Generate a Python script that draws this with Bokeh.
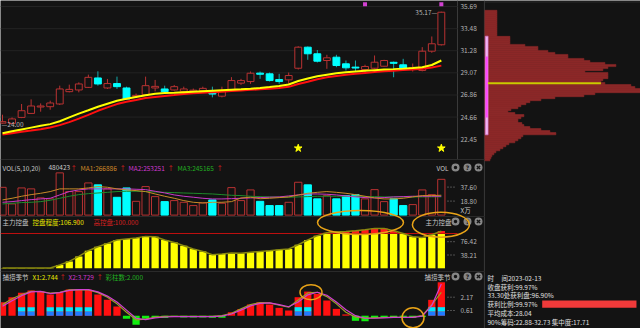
from bokeh.plotting import figure
from bokeh.models import Range1d, ColumnDataSource
from bokeh.core.properties import value
from bokeh.embed import file_html
from bokeh.resources import INLINE

FONT = value("Noto Sans CJK SC")

# ---------------- data ----------------
opens = [24.05, 24.02, 24.62, 25.02, 25.66, 25.69, 25.96, 27.19, 27.36, 27.62,
         28.56, 27.56, 28.00, 27.56, 26.72, 26.89, 27.56, 27.46, 27.36, 27.22,
         27.25, 27.29, 27.20, 26.74, 27.31, 28.04, 28.20, 29.00, 28.97, 28.40,
         28.37, 29.53, 31.63, 30.97, 30.30, 30.63, 29.97, 29.60, 29.40, 29.53,
         29.73, 30.08, 29.87, 29.45, 29.30, 31.23, 31.87]
highs = [24.89, 24.62, 25.96, 26.42, 26.02, 26.29, 27.79, 27.89, 28.12, 28.89,
         29.22, 28.46, 28.69, 27.69, 27.00, 28.69, 28.36, 27.79, 27.86, 27.69,
         27.50, 27.69, 27.69, 27.69, 28.64, 28.47, 29.20, 29.20, 29.10, 28.97,
         29.10, 31.72, 31.70, 31.35, 30.87, 30.87, 30.30, 30.30, 29.88, 30.80,
         30.37, 30.20, 30.47, 30.00, 31.63, 32.70, 35.17]
lows = [24.00, 24.00, 24.55, 24.96, 25.19, 25.39, 25.86, 27.12, 27.12, 27.56,
        27.79, 27.46, 27.46, 26.42, 26.60, 26.79, 27.22, 27.12, 27.29, 27.12,
        27.15, 27.22, 26.62, 26.62, 27.21, 27.87, 27.97, 28.47, 28.20, 27.97,
        27.97, 29.40, 30.37, 30.10, 29.47, 29.63, 29.30, 29.15, 29.00, 29.47,
        29.70, 28.63, 29.30, 29.20, 29.22, 31.07, 31.80]
closes = [24.20, 24.47, 25.29, 25.76, 25.72, 26.06, 27.46, 27.42, 27.96, 28.62,
          27.96, 28.00, 27.69, 26.46, 26.82, 27.79, 27.72, 27.19, 27.69, 27.46,
          27.30, 27.52, 26.95, 27.31, 28.30, 28.30, 29.03, 28.93, 28.30, 28.20,
          28.80, 31.63, 30.97, 30.23, 30.57, 29.80, 29.57, 29.55, 29.70, 30.13,
          30.30, 30.02, 29.40, 29.52, 31.23, 31.97, 35.12]
ma_yellow = [23.05, 23.24, 23.42, 23.60, 23.78, 23.95, 24.24, 24.62, 25.00, 25.33,
             25.68, 25.98, 26.28, 26.48, 26.66, 26.83, 26.99, 27.05, 27.09, 27.14,
             27.19, 27.24, 27.29, 27.34, 27.39, 27.43, 27.48, 27.56, 27.65, 27.75,
             27.91, 28.26, 28.51, 28.72, 28.88, 29.02, 29.12, 29.20, 29.27, 29.34,
             29.40, 29.44, 29.49, 29.55, 29.63, 29.85, 30.30]
ma_red = [22.92, 23.05, 23.18, 23.31, 23.45, 23.62, 23.85, 24.15, 24.50, 24.88,
          25.28, 25.62, 25.95, 26.18, 26.36, 26.56, 26.66, 26.76, 26.85, 26.95,
          27.02, 27.08, 27.14, 27.19, 27.25, 27.31, 27.37, 27.43, 27.48, 27.55,
          27.67, 27.96, 28.18, 28.43, 28.62, 28.76, 28.87, 28.97, 29.06, 29.15,
          29.23, 29.29, 29.35, 29.41, 29.48, 29.61, 29.79]

vol = [37.3, 15.0, 36.5, 35.2, 23.1, 21.8, 56.7, 31.6, 31.6, 43.2,
       40.6, 35.2, 23.9, 36.5, 18.5, 38.3, 24.8, 18.1, 19.5, 17.2,
       12.8, 16.4, 20.4, 15.9, 36.9, 19.5, 33.8, 18.5, 12.8, 12.8,
       17.2, 44.1, 40.6, 21.8, 26.2, 21.8, 26.2, 27.5, 21.8, 34.2,
       18.1, 21.8, 12.8, 14.1, 33.8, 27.5, 48.0423]
vol_ma1 = [20.4, 22.6, 25.3, 27.5, 29.3, 31.6, 35.2, 35.2, 35.2, 36.5,
           38.3, 37.4, 35.2, 33.8, 32.9, 31.6, 28.4, 25.3, 22.6, 19.5,
           17.2, 16.3, 17.2, 17.2, 18.1, 23.0, 24.0, 22.0, 22.6, 23.5,
           24.4, 26.9, 29.3, 30.6, 31.6, 30.6, 29.3, 27.5, 25.3, 23.1,
           21.7, 21.7, 22.6, 24.4, 26.2, 26.2, 26.6886]
vol_ma2 = [17.2, 18.1, 19.5, 20.8, 21.7, 22.6, 27.1, 31.6, 33.8, 35.2,
           35.2, 35.2, 35.2, 35.2, 34.7, 34.2, 32.0, 29.8, 27.1, 25.3,
           24.0, 22.6, 21.7, 21.7, 22.1, 22.6, 23.1, 23.5, 24.0, 24.4,
           25.7, 27.1, 28.4, 28.4, 28.0, 27.1, 25.7, 24.4, 23.5, 23.1,
           23.5, 24.4, 24.8, 25.3, 25.3, 25.3, 25.3251]
vol_ma3 = [15.0, 15.9, 16.8, 17.2, 18.1, 19.9, 22.6, 25.3, 27.5, 28.8,
           29.7, 30.6, 31.6, 32.0, 32.0, 31.6, 31.1, 30.6, 30.2, 29.7,
           29.3, 28.8, 28.4, 27.5, 26.6, 26.2, 25.3, 24.8, 24.4, 24.0,
           24.0, 24.4, 24.8, 25.3, 25.3, 25.3, 25.3, 25.3, 24.8, 24.8,
           24.4, 24.4, 24.4, 24.4, 24.4, 24.5, 24.5165]

zl = [0.8, 0.8, 0.8, 0.8, 0.8, 0.8, 9.5, 19.8, 34.2, 50.6,
      62.1, 71.6, 81.3, 84.2, 87.0, 91.7, 90.8, 81.3, 74.4, 64.9,
      55.4, 48.6, 39.1, 41.0, 43.9, 43.0, 45.8, 48.6, 50.6, 53.4,
      55.4, 67.8, 81.3, 93.7, 102.0, 105.0, 106.0, 108.0, 111.0, 114.7,
      114.7, 108.0, 100.0, 90.8, 88.8, 96.5, 106.9]
zl_high = 100.0

bl = [1.58, 2.17, 2.68, 2.95, 2.83, 2.48, 2.75, 3.07, 3.07, 3.03,
      2.48, 1.86, 1.08, -0.37, -1.06, -0.37, -0.20, -0.27, -0.15, -0.20,
      -0.20, -0.20, -0.25, -0.25, 0.40, 0.80, 1.31, 1.58, 1.31, 0.92,
      0.61, 2.17, 2.83, 2.56, 1.78, 0.80, 0.15, -0.60, -0.65, -0.27,
      -0.20, -0.20, -0.20, -0.25, -0.15, 1.86, 3.92]
bl_x1 = [1.30, 1.98, 2.48, 2.87, 2.83, 2.64, 2.75, 3.03, 3.07, 3.03,
         2.71, 2.17, 1.39, 0.41, -0.48, -0.41, -0.17, -0.09, -0.09, -0.09,
         -0.09, -0.09, -0.09, 0.02, 0.29, 0.80, 1.30, 1.54, 1.50, 1.23,
         0.99, 1.85, 2.67, 2.75, 2.24, 1.39, 0.41, -0.17, -0.29, -0.25,
         -0.21, -0.17, -0.21, -0.17, 0.02, 1.30, 2.744]
bl_x2 = [1.10, 1.75, 2.35, 2.80, 2.85, 2.60, 2.70, 2.98, 3.05, 3.05,
         2.80, 2.30, 1.60, 0.65, -0.30, -0.45, -0.25, -0.15, -0.12, -0.12,
         -0.12, -0.12, -0.12, -0.05, 0.20, 0.65, 1.15, 1.45, 1.50, 1.30,
         1.05, 1.60, 2.45, 2.75, 2.40, 1.60, 0.70, 0.00, -0.30, -0.30,
         -0.25, -0.20, -0.20, -0.20, -0.05, 1.20, 3.729]
bl_colored = [2, 3, 5, 6, 7, 8, 9, 31, 32, 45, 46]
bl_blue_top = 0.5
bl_cyan_top = 1.0

star_idx = [31, 46]
dot_idx = [38, 46]

price_ticks = [35.69, 33.48, 31.28, 29.07, 26.86, 24.66, 22.45]
vol_ticks = [37.60, 18.80]
zl_ticks = [76.42, 38.21]
bl_ticks = [2.17, 0.61]

chip_price = [35.2, 35.0, 34.8, 34.6, 34.4, 34.2, 34.0, 33.8, 33.6, 33.4, 33.2, 33.0, 32.8,
              32.6, 32.4, 32.2, 32.0, 31.8, 31.6, 31.4, 31.2, 31.0, 30.8, 30.6, 30.4,
              30.2, 30.0, 29.8, 29.6, 29.4, 29.2, 29.0, 28.8, 28.6, 28.4, 28.2, 28.0,
              27.8, 27.6, 27.4, 27.2, 27.0, 26.8, 26.6, 26.4, 26.2, 26.0, 25.8, 25.6,
              25.4, 25.2, 25.0, 24.8, 24.6, 24.4, 24.2, 24.0, 23.8, 23.6, 23.4, 23.2,
              23.0, 22.8, 22.6, 22.4, 22.2, 22.0, 21.8, 21.6, 21.4, 21.2, 21.0, 20.8,
              20.6, 20.4]
chip_amount = [12, 12, 12, 12, 12, 12, 12, 12, 12, 12, 12, 12, 12,
               25, 25, 25, 25, 40, 53, 53, 63, 70, 83, 83, 99,
               105, 120, 131, 123, 118, 100, 123, 123, 123, 118, 116, 120,
               146, 150, 156, 156, 110, 99, 70, 56, 45, 41, 36, 33,
               26, 23, 30, 39, 36, 33, 33, 37, 39, 45, 56, 65,
               71, 38, 36, 33, 30, 24, 21, 18, 15, 11, 9, 7,
               6, 5]
chip_bin = 0.2
chip90 = (22.88, 32.73)
chip70 = (24.60, 30.70)
avg_cost = 28.04
profit_ratio = 99.97

# ---------------- layout constants ----------------
W, H = 640, 328
BG = "#131313"
K_X0, K_STEP = 2.0, 9.54
P_REF, P_REF_Y, P_PX = 35.69, 6.0, 10.02
V0_Y, V_UNIT = 214.6, 1.343
Z0_Y, Z_UNIT = 267.8, 2.873
B0_Y, B_UNIT = 315.2, 0.1173
C0_X = 484.4
R0_X, R_PX = 541.7, 0.943
PLOT_R = 457
LABEL_X = 460

p = figure(width=W, height=H, x_range=Range1d(0, W), y_range=Range1d(H, 0),
           output_backend="svg", toolbar_location=None, min_border=0,
           x_axis_location=None, y_axis_location=None)
p.grid.visible = False
p.background_fill_color = BG
p.border_fill_color = BG
p.outline_line_color = None
p.extra_x_ranges = {
    "k": Range1d(-K_X0 / K_STEP, (W - K_X0) / K_STEP),
    "chip": Range1d(-C0_X, W - C0_X),
    "pct": Range1d(-R0_X / R_PX, (W - R0_X) / R_PX),
}
p.extra_y_ranges = {
    "price": Range1d(P_REF - (H - P_REF_Y) / P_PX, P_REF + P_REF_Y / P_PX),
    "vol": Range1d(-(H - V0_Y) * V_UNIT, V0_Y * V_UNIT),
    "zl": Range1d(-(H - Z0_Y) * Z_UNIT, Z0_Y * Z_UNIT),
    "bl": Range1d(-(H - B0_Y) * B_UNIT, B0_Y * B_UNIT),
}

n = len(opens)
idx = list(range(n))
UP, DN, DNW = "#b83232", "#00ffff", "#14a8a8"
up = [c >= o for o, c in zip(opens, closes)]

# separators
p.segment(x0=[PLOT_R, C0_X - 0.5], y0=[0, 0], x1=[PLOT_R, C0_X - 0.5], y1=[159, H],
          line_color="#3a3a3a", line_width=1)
p.segment(x0=[0, 0, 0, C0_X], y0=[159, 216, 271, 1.5], x1=[C0_X, C0_X, C0_X, W],
          y1=[159, 216, 271, 1.5], line_color="#2a2a2a", line_width=1)

# price grid
p.segment(x0=0, x1=PLOT_R, y0=price_ticks, y1=price_ticks, y_range_name="price",
          line_color="#232323", line_width=1)

# candles
src = ColumnDataSource(dict(
    x=idx, o=opens, h=highs, l=lows, c=closes,
    top=[max(o, c) + (0.04 if abs(c - o) < 0.08 else 0) for o, c in zip(opens, closes)],
    bot=[min(o, c) for o, c in zip(opens, closes)],
    wick=[UP if u else DNW for u in up],
    fill=[BG if u else DN for u in up],
    line=[UP if u else DN for u in up],
))
p.segment(x0="x", y0="h", x1="x", y1="l", source=src, line_color="wick",
          x_range_name="k", y_range_name="price", line_width=1)
p.vbar(x="x", top="top", bottom="bot", width=0.72, source=src, fill_color="fill",
       line_color="line", line_width=1, x_range_name="k", y_range_name="price")

p.line(idx, ma_red, line_color="#ff1010", line_width=2, x_range_name="k", y_range_name="price")
p.line(idx, ma_yellow, line_color="#ffff00", line_width=2, x_range_name="k", y_range_name="price")

imax = highs.index(max(highs))
imin = lows.index(min(lows))
p.text(x=[imax], y=[highs[imax]], text=[f"{highs[imax]:.2f}—"], x_offset=-4,
       x_range_name="k", y_range_name="price", text_font=FONT, text_font_size="6.5px",
       text_color="#b8b8b8", text_align="right", text_baseline="middle")
p.text(x=[imin], y=[lows[imin]], text=[f"—{lows[imin]:.2f}"], x_offset=-1,
       x_range_name="k", y_range_name="price", text_font=FONT, text_font_size="6.5px",
       text_color="#b8b8b8", text_align="left", text_baseline="middle")

sig_low = P_REF - (147.7 - P_REF_Y) / P_PX
sig_high = P_REF + (P_REF_Y - 3.7) / P_PX
p.scatter(star_idx, [sig_low] * len(star_idx), marker="star", size=8, fill_color="#ffff00",
          line_color="#ffff00", x_range_name="k", y_range_name="price")
p.scatter(dot_idx, [sig_high] * len(dot_idx), marker="square", size=4, fill_color="#d040d0",
          line_color=None, x_range_name="k", y_range_name="price")

# volume
vsrc = ColumnDataSource(dict(x=idx, v=vol, fill=[BG if u else DN for u in up],
                             line=[UP if u else DN for u in up]))
p.vbar(x="x", top="v", bottom=0, width=0.76, source=vsrc, fill_color="fill",
       line_color="line", x_range_name="k", y_range_name="vol")
p.line(idx, vol_ma3, line_color="#1f8a2a", line_width=1, x_range_name="k", y_range_name="vol")
p.line(idx, vol_ma2, line_color="#c838c8", line_width=1, x_range_name="k", y_range_name="vol")
p.line(idx, vol_ma1, line_color="#c88a28", line_width=1, x_range_name="k", y_range_name="vol")

# 主力控盘
p.vbar(x=idx, top=[min(v, zl_high) for v in zl], bottom=0, width=0.76,
       fill_color="#ffff00", line_color=None, x_range_name="k", y_range_name="zl")
hi_idx = [i for i, v in enumerate(zl) if v > zl_high]
p.vbar(x=hi_idx, top=[zl[i] for i in hi_idx], bottom=zl_high, width=0.76,
       fill_color="#ff1a1a", line_color=None, x_range_name="k", y_range_name="zl")
p.segment(x0=0, x1=PLOT_R, y0=zl_high, y1=zl_high, line_color="#c01010", line_width=1,
          y_range_name="zl")
p.line(idx, zl, line_color="#8a8a10", line_width=1.5, x_range_name="k", y_range_name="zl")

# 捕捞季节
p.vbar(x=idx, top=[max(v, 0) for v in bl], bottom=[min(v, 0) for v in bl], width=0.76,
       fill_color=["#ff1010" if v > 0 else "#10ee10" for v in bl], line_color=None,
       x_range_name="k", y_range_name="bl")
p.vbar(x=bl_colored, top=bl_blue_top, bottom=0, width=0.76, fill_color="#1e7bff",
       line_color=None, x_range_name="k", y_range_name="bl")
p.vbar(x=bl_colored, top=bl_cyan_top, bottom=bl_blue_top, width=0.76, fill_color="#00e8ff",
       line_color=None, x_range_name="k", y_range_name="bl")
p.line(idx, bl_x1, line_color="#9c9c28", line_width=1.2, x_range_name="k", y_range_name="bl")
p.line(idx, bl_x2, line_color="#d040d0", line_width=1.2, x_range_name="k", y_range_name="bl")

# axis labels
for ticks, rng in [(price_ticks, "price"), (vol_ticks, "vol"), (zl_ticks, "zl"), (bl_ticks, "bl")]:
    p.text(x=[LABEL_X] * len(ticks), y=ticks, text=[f"{t:.2f}" for t in ticks], y_range_name=rng,
           text_font=FONT, text_font_size="6.5px", text_color="#b4b4b4",
           text_align="left", text_baseline="middle")
    if rng != "price":
        p.segment(x0=447, x1=455, y0=ticks, y1=ticks, y_range_name=rng,
                  line_color="#8a8a8a", line_dash="1 2", line_width=1)
p.text(x=[LABEL_X], y=[209], text=["X万"], text_font=FONT, text_font_size="6.5px",
       text_color="#c8c8c8", text_align="left", text_baseline="middle")

# chip distribution (contiguous bins)
CHIP_RED = "#8c2828"
p.quad(left=0, right=chip_amount,
       bottom=[c - chip_bin / 2 - 0.01 for c in chip_price],
       top=[c + chip_bin / 2 + 0.01 for c in chip_price],
       fill_color=CHIP_RED, line_color=CHIP_RED, line_width=0.6,
       x_range_name="chip", y_range_name="price")
p.vbar(x=[1.8], bottom=[chip90[0]], top=[chip90[1]], width=2.8, fill_color="#f2b4f2",
       line_color="#d070d0", line_width=0.6, x_range_name="chip", y_range_name="price")
p.vbar(x=[1.8], bottom=[chip70[0]], top=[chip70[1]], width=2.2, fill_color="#ff44ff",
       line_color=None, x_range_name="chip", y_range_name="price")
p.segment(x0=[3], x1=[116], y0=[avg_cost], y1=[avg_cost], line_color="#caca00", line_width=2,
          x_range_name="chip", y_range_name="price")

# headers
hdr = [
    (2, 167, "VOL(5,10,20)", "#c8c8c8"),
    (48, 167, f"{vol[-1] * 1e4:.0f}", "#c8c8c8"),
    (70, 167, "↑", "#e02020"),
    (80, 167, f"MA1:{vol_ma1[-1] * 1e4:.0f}", "#d08a28"),
    (119, 167, "↑", "#e02020"),
    (128, 167, f"MA2:{vol_ma2[-1] * 1e4:.0f}", "#d038d0"),
    (167, 167, "↑", "#e02020"),
    (177, 167, f"MA3:{vol_ma3[-1] * 1e4:.0f}", "#22b022"),
    (216, 167, "↑", "#e02020"),
    (2, 221, "主力控盘", "#c8c8c8"),
    (32, 221, f"控盘程度:{zl[-1]:.3f}", "#e8e800"),
    (74, 221, "↑", "#e02020"),
    (93, 221, f"高控盘:{zl_high:.3f}", "#d82020"),
    (2, 276, "捕捞季节", "#c8c8c8"),
    (32, 276, f"X1:{bl_x1[-1]:.3f}", "#e8e800"),
    (59, 276, "↑", "#e02020"),
    (68, 276, f"X2:{bl_x2[-1]:.3f}", "#d038d0"),
    (96, 276, "↑", "#e02020"),
    (105, 276, "彩柱数:2.000", "#22b022"),
    (436, 167, "VOL", "#c8c8c8"),
    (425, 221, "主力控盘", "#c8c8c8"),
    (424, 276, "捕捞季节", "#c8c8c8"),
    (487, 277.5, "时", "#e0e0e0"),
    (501, 277.5, "间2023-02-13", "#e0e0e0"),
    (487, 286, "收盘获利:99.97%", "#e0e0e0"),
    (487, 294.5, "33.30处获利盘:96.90%", "#e0e0e0"),
    (487, 303.5, f"获利比例:{profit_ratio:.2f}%", "#e0e0e0"),
    (487, 312.5, f"平均成本:{avg_cost:.2f}", "#e0e0e0"),
    (487, 321.5, f"90%筹码:{chip90[0]:.2f}-{chip90[1]:.2f}  集中度:17.71", "#e0e0e0"),
]
hsrc = ColumnDataSource(dict(x=[h[0] for h in hdr], y=[h[1] for h in hdr],
                             t=[h[2] for h in hdr], c=[h[3] for h in hdr]))
p.text(x="x", y="y", text="t", text_color="c", source=hsrc, text_font=FONT,
       text_font_size="6.5px", text_align="left", text_baseline="middle")

# profit ratio bar
p.quad(left=[0], right=[profit_ratio], top=[300], bottom=[307.3], fill_color="#f03a3a",
       line_color=None, x_range_name="pct")

# icons
ix = [455, 467, 478]
iy = [167, 221, 276]
gx = [x for _ in iy for x in ix]
gy = [y for y in iy for _ in ix]
p.scatter(gx, gy, marker="circle", size=8, fill_color="#868686", line_color=None)
p.scatter([ix[0]] * 3, iy, marker="circle", size=3.5, fill_color=BG, line_color=None)
p.text(x=[ix[1]] * 3, y=iy, text=["?"] * 3, text_font=value("DejaVu Sans"),
       text_font_size="6px", text_font_style="bold", text_color="#151515",
       text_align="center", text_baseline="middle")
p.scatter([ix[2]] * 3, iy, marker="x", size=4.5, line_color="#151515", line_width=1.4)

# annotation ellipses
p.ellipse(x=[360, 440.4, 310.5, 412.5], y=[222, 224.2, 291.7, 317.3],
          width=[86, 57, 22, 22], height=[24, 25, 15, 20], fill_alpha=0,
          line_color="#e8a317", line_width=1.5)

open("out.html", "w").write(file_html(p, INLINE))
